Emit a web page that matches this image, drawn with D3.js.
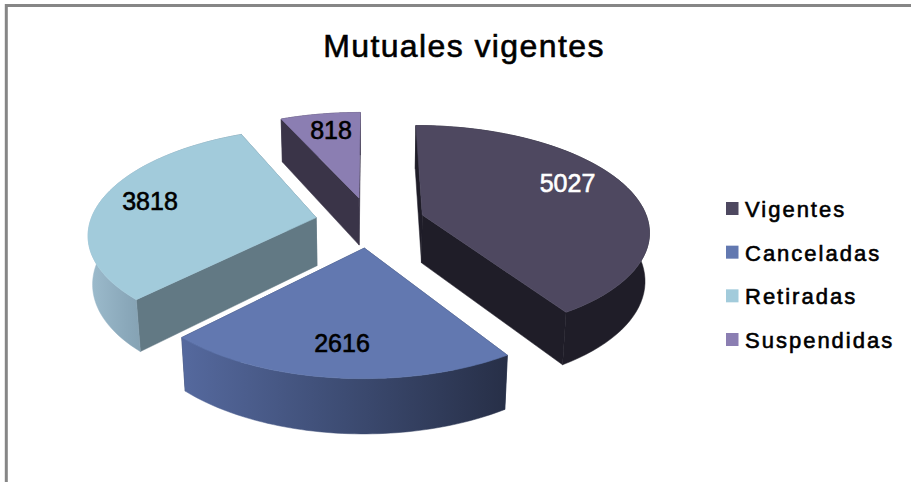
<!DOCTYPE html>
<html><head><meta charset="utf-8">
<script src="https://cdn.jsdelivr.net/npm/d3@7"></script>
<style>html,body{margin:0;padding:0;background:#fff}svg{display:block}text{font-family:"Liberation Sans",Arial,sans-serif}</style>
</head><body><svg id="c" width="911" height="482"></svg>
<script>
const categories = ["Vigentes","Canceladas","Retiradas","Suspendidas"];
const values = [5027,2616,3818,818];
const topColors = ["#4e4860","#6278b0","#a2cbdb","#8b7eb2"];
const wallColors = ["#1f1d28","#2d3856","#627984","#3a3448"];
const labelColors = ["#ffffff","#000000","#000000","#000000"];
const rimStops = [
  [["0","#1f1d28"],["1","#1f1d28"]],
  [["0","#55699e"],["0.5","#3d4c73"],["1","#272f47"]],
  [["0","#9dbccd"],["0.25","#8aa8ba"],["1","#627984"]],
  [["0","#3a3448"],["1","#3a3448"]]
];
const labelShift = [[567.5,183],[342,343],[150,201],[331,130]];

const W=911,H=482;
const cx=370, cy=222, R=226, EXP=55, K=0.46, D=1600, DEPTH=49, ZW=0.016;
const svg=d3.select("#c");
const defs=svg.append("defs");

// frame
svg.append("path").attr("d",`M6.3 ${H}V5.5H${W}`).attr("fill","none").attr("stroke","#868686").attr("stroke-width",3);

const pie=d3.pie().sort(null).value(d=>d).startAngle(0).endAngle(2*Math.PI);
const arcs=pie(values);

function proj(a,r,z,mid){
  const u=r*Math.sin(a)+EXP*Math.sin(mid);
  const v=-r*Math.cos(a)-EXP*Math.cos(mid);
  const w=1-v/D+z*ZW;
  return [cx+u/w, cy+(K*v+z*DEPTH)/w];
}
const line=d3.line();
function arcPts(s,z,rev){
  const n=60, mid=(s.startAngle+s.endAngle)/2;
  const sc=d3.scaleLinear().domain([0,n]).range(rev?[s.endAngle,s.startAngle]:[s.startAngle,s.endAngle]);
  return d3.range(n+1).map(i=>proj(sc(i),R,z,mid));
}
// draw far to near
const order=[3,0,2,1];
const g=svg.append("g");
order.forEach(i=>{
  const s=arcs[i], mid=(s.startAngle+s.endAngle)/2;
  const sl=g.append("g");
  const a0=proj(0,0,0,mid), a1=proj(0,0,1,mid);
  const st0=proj(s.startAngle,R,0,mid), st1=proj(s.startAngle,R,1,mid);
  const en0=proj(s.endAngle,R,0,mid), en1=proj(s.endAngle,R,1,mid);
  const gid="rim"+i;
  const gr=defs.append("linearGradient").attr("id",gid);
  rimStops[i].forEach(p=>gr.append("stop").attr("offset",p[0]).attr("stop-color",p[1]));
  const walls=[
    {pts:[a0,st0,st1,a1],c:wallColors[i],y:st0[1]},
    {pts:[a0,en0,en1,a1],c:wallColors[i],y:en0[1]}
  ].sort((p,q)=>d3.ascending(p.y,q.y));
  const rim=arcPts(s,0,false).concat(arcPts(s,1,true));
  sl.append("path").attr("d",line(walls[0].pts)+"Z").attr("fill",walls[0].c).attr("stroke",walls[0].c).attr("stroke-width",0.5);
  sl.append("path").attr("d",line(walls[1].pts)+"Z").attr("fill",walls[1].c).attr("stroke",walls[1].c).attr("stroke-width",0.5);
  sl.append("path").attr("d",line(rim)+"Z").attr("fill",`url(#${gid})`).attr("stroke",`url(#${gid})`).attr("stroke-width",0.5);
  sl.append("path").attr("d",line([a0].concat(arcPts(s,0,false)))+"Z").attr("fill",topColors[i]).attr("stroke",topColors[i]).attr("stroke-width",0.6);
});

// value labels
svg.append("g").selectAll("text").data(arcs).join("text")
  .attr("x",(d,i)=>labelShift[i][0]).attr("y",(d,i)=>labelShift[i][1]+9)
  .attr("text-anchor","middle").attr("font-size",25).attr("fill",(d,i)=>labelColors[i])
  .attr("stroke",(d,i)=>labelColors[i]).attr("stroke-width",0.6)
  .text(d=>d.value);

// title
svg.append("text").attr("x",464).attr("y",57).attr("text-anchor","middle")
  .attr("font-size",32).attr("letter-spacing",1.4).attr("stroke","#000").attr("stroke-width",0.6).text("Mutuales vigentes");

// legend
const ly=d3.scalePoint().domain(categories).range([208.5,339.5]);
const lg=svg.append("g").selectAll("g").data(categories).join("g").attr("transform",d=>`translate(726,${ly(d)})`);
lg.append("rect").attr("x",0).attr("y",-6.5).attr("width",12.5).attr("height",13).attr("fill",(d,i)=>topColors[i]);
lg.append("text").attr("x",19).attr("y",8.5).attr("font-size",22).attr("letter-spacing",2)
  .attr("stroke","#000").attr("stroke-width",0.6).text(d=>d);
</script></body></html>
